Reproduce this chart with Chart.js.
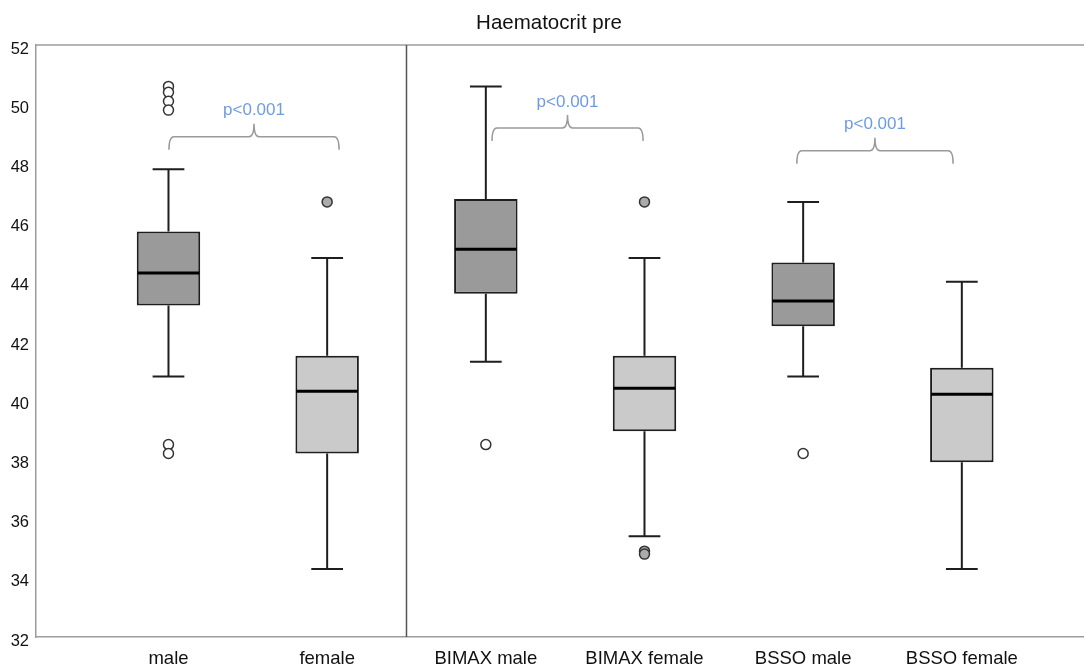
<!DOCTYPE html>
<html>
<head>
<meta charset="utf-8">
<title>Haematocrit pre</title>
<script src="https://cdn.jsdelivr.net/npm/chart.js@4.4.1/dist/chart.umd.min.js"></script>
<style>
    html, body { margin: 0; padding: 0; background: #fff; }
    #wrap { width: 1084px; height: 668px; }
</style>
</head>
<body>
<div id="wrap"><canvas id="hctChart" width="1084" height="668"></canvas></div>
<script>
/**
 * Haematocrit pre - box plots per group
 */

const categories = ['male', 'female', 'BIMAX male', 'BIMAX female', 'BSSO male', 'BSSO female'];
const isFemale = [false, true, false, true, false, true];

// five-number summaries
const whiskerLow = [40.8, 34.3, 41.3, 35.4, 40.8, 34.3];
const q1 = [43.2, 38.2, 43.6, 38.95, 42.5, 37.9];
const median = [44.3, 40.3, 45.1, 40.4, 43.35, 40.2];
const q3 = [45.7, 41.5, 46.8, 41.5, 44.65, 41.1];
const whiskerHigh = [47.8, 44.8, 50.6, 44.8, 46.7, 44.0];

// outliers per group
const outliers = [
    [50.6, 50.4, 50.1, 49.8, 38.5, 38.2],
    [46.7],
    [38.5],
    [46.7, 34.9, 34.8],
    [38.2],
    []
];

const yTicks = [32, 34, 36, 38, 40, 42, 44, 46, 48, 50, 52];

// significance brackets: group span on the x axis, level of the bar
const bracketFrom = [1.003, 3.039, 4.96];
const bracketTo = [2.075, 3.991, 5.945];
const bracketLevel = [48.9, 49.2, 48.43];
const bracketText = ['p<0.001', 'p<0.001', 'p<0.001'];

const FONT = "'Liberation Sans', Arial, Helvetica, sans-serif";
const MALE_FILL = '#9a9a9a';
const FEMALE_FILL = '#cacaca';
const LINE = '#1e1e1e';

function boxData() {
    return categories.map((c, i) => ({ x: i + 1, y: [q1[i], q3[i]] }));
}

function outlierData() {
    const pts = [];
    outliers.forEach((list, i) => {
        list.forEach(v => pts.push({ x: i + 1, y: v, female: isFemale[i] }));
    });
    return pts;
}

const outlierPoints = outlierData();

// whiskers, medians, divider, brackets and title
const boxExtras = {
    id: 'boxExtras',
    beforeDatasetsDraw(chart) {
        const ctx = chart.ctx;
        const xs = chart.scales.x;
        const ys = chart.scales.y;
        const area = chart.chartArea;
        const unit = xs.getPixelForValue(2) - xs.getPixelForValue(1);
        const cap = unit * 0.2;

        ctx.save();
        // top frame line
        ctx.strokeStyle = '#9c9c9c';
        ctx.lineWidth = 1.5;
        ctx.beginPath();
        ctx.moveTo(area.left, area.top);
        ctx.lineTo(area.right, area.top);
        ctx.stroke();

        // divider between overall and per-procedure groups
        ctx.strokeStyle = '#555';
        ctx.lineWidth = 1.5;
        const dx = xs.getPixelForValue(2.5);
        ctx.beginPath();
        ctx.moveTo(dx, area.top);
        ctx.lineTo(dx, area.bottom);
        ctx.stroke();

        ctx.strokeStyle = LINE;
        ctx.lineWidth = 2;
        categories.forEach((c, i) => {
            const x = xs.getPixelForValue(i + 1);
            const yHi = ys.getPixelForValue(whiskerHigh[i]);
            const yLo = ys.getPixelForValue(whiskerLow[i]);
            ctx.beginPath();
            ctx.moveTo(x, ys.getPixelForValue(q3[i]));
            ctx.lineTo(x, yHi);
            ctx.moveTo(x - cap / 2, yHi);
            ctx.lineTo(x + cap / 2, yHi);
            ctx.moveTo(x, ys.getPixelForValue(q1[i]));
            ctx.lineTo(x, yLo);
            ctx.moveTo(x - cap / 2, yLo);
            ctx.lineTo(x + cap / 2, yLo);
            ctx.stroke();
        });
        ctx.restore();
    },
    afterDatasetsDraw(chart) {
        const ctx = chart.ctx;
        const xs = chart.scales.x;
        const ys = chart.scales.y;
        const half = (xs.getPixelForValue(2) - xs.getPixelForValue(1)) * 0.2;

        ctx.save();
        // medians
        ctx.strokeStyle = '#000';
        ctx.lineWidth = 3;
        categories.forEach((c, i) => {
            const x = xs.getPixelForValue(i + 1);
            const y = ys.getPixelForValue(median[i]);
            ctx.beginPath();
            ctx.moveTo(x - half + 1, y);
            ctx.lineTo(x + half - 1, y);
            ctx.stroke();
        });

        // curly brackets with p-values
        const drop = 13, rise = 13, r = 5;
        bracketFrom.forEach((from, k) => {
            const x1 = xs.getPixelForValue(from);
            const x2 = xs.getPixelForValue(bracketTo[k]);
            const xm = (x1 + x2) / 2;
            const y = ys.getPixelForValue(bracketLevel[k]);
            ctx.strokeStyle = '#9a9a9a';
            ctx.lineWidth = 1.5;
            ctx.beginPath();
            ctx.moveTo(x1, y + drop);
            ctx.quadraticCurveTo(x1, y, x1 + r, y);
            ctx.lineTo(xm - r, y);
            ctx.quadraticCurveTo(xm, y, xm, y - rise);
            ctx.quadraticCurveTo(xm, y, xm + r, y);
            ctx.lineTo(x2 - r, y);
            ctx.quadraticCurveTo(x2, y, x2, y + drop);
            ctx.stroke();

            ctx.fillStyle = '#6f9be0';
            ctx.font = '17px ' + FONT;
            ctx.textAlign = 'center';
            ctx.textBaseline = 'middle';
            ctx.fillText(bracketText[k], xm, y - rise - 13);
        });

        // title
        ctx.fillStyle = '#111';
        ctx.font = '20.5px ' + FONT;
        ctx.textAlign = 'center';
        ctx.textBaseline = 'middle';
        ctx.fillText('Haematocrit pre', 549, 23);
        ctx.restore();
    }
};

new Chart(document.getElementById('hctChart'), {
    data: {
        datasets: [
            {
                type: 'bar',
                data: boxData(),
                backgroundColor: categories.map((c, i) => isFemale[i] ? FEMALE_FILL : MALE_FILL),
                borderColor: LINE,
                borderWidth: 2,
                borderSkipped: false,
                categoryPercentage: 1,
                barPercentage: 0.4,
                order: 2
            },
            {
                type: 'scatter',
                data: outlierPoints,
                pointRadius: 5,
                pointBorderWidth: 1.5,
                pointBorderColor: '#333',
                pointBackgroundColor: outlierPoints.map(p => p.female ? '#ababab' : '#fff'),
                order: 1
            }
        ]
    },
    plugins: [boxExtras],
    options: {
        responsive: false,
        animation: false,
        events: [],
        layout: {
            autoPadding: false,
            padding: { top: 45, left: 0, right: 0, bottom: 0 }
        },
        plugins: {
            legend: { display: false },
            tooltip: { enabled: false },
            title: { display: false }
        },
        scales: {
            x: {
                type: 'linear',
                offset: false,
                min: 0.165,
                max: 6.77,
                grid: { display: false, drawTicks: false, tickLength: 0 },
                border: { display: true, color: '#9c9c9c', width: 1.5 },
                afterFit(scale) { scale.height = 31; },
                afterBuildTicks(scale) {
                    scale.ticks = categories.map((c, i) => ({ value: i + 1 }));
                },
                ticks: {
                    padding: 11,
                    color: '#111',
                    font: { family: FONT, size: 18.5 },
                    maxRotation: 0,
                    autoSkip: false,
                    callback: (v) => categories[v - 1]
                }
            },
            y: {
                min: 32,
                max: 52,
                grid: { display: false, drawTicks: false, tickLength: 0 },
                border: { display: true, color: '#9c9c9c', width: 1.5 },
                afterFit(scale) { scale.width = 36; },
                afterBuildTicks(scale) {
                    scale.ticks = yTicks.map(v => ({ value: v }));
                },
                ticks: {
                    padding: 7,
                    labelOffset: 4,
                    color: '#111',
                    font: { family: FONT, size: 16.5 }
                }
            }
        }
    }
});
</script>
</body>
</html>
